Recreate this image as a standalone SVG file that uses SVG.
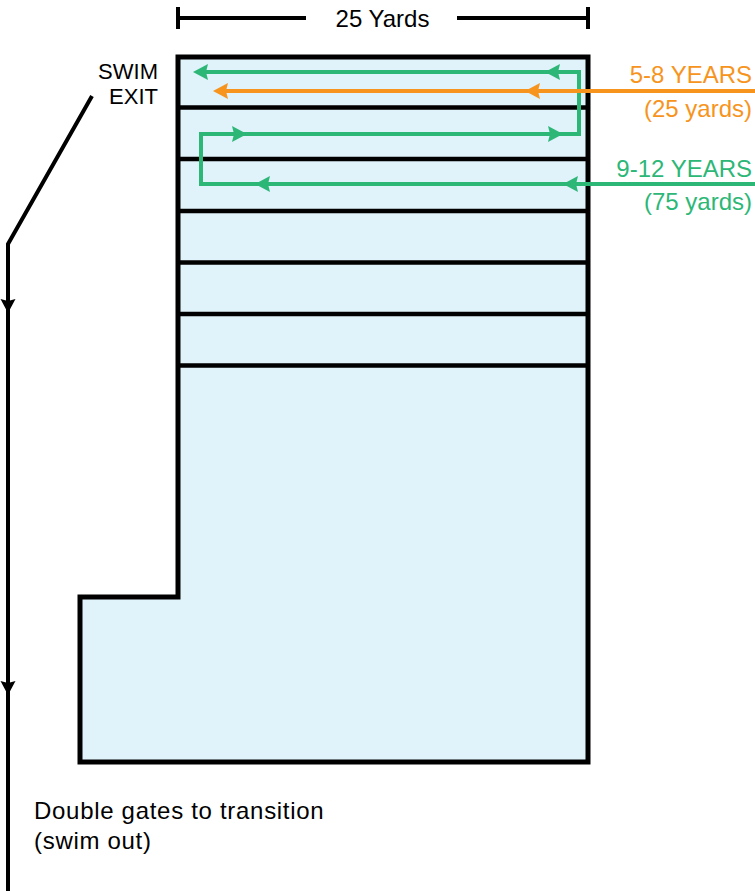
<svg xmlns="http://www.w3.org/2000/svg" width="755" height="891" viewBox="0 0 755 891">
<style>
text{font-family:"Liberation Sans",Arial,Helvetica,sans-serif;font-size:24px}
.blk{fill:#000}
.org{fill:#F7941D}
.grn{fill:#2CB777}
.lane{stroke:#000;stroke-width:4.5;fill:none}
.ls{fill:none;stroke-width:4;stroke-linejoin:miter}
.lg{stroke:#2CB777}
.lo{stroke:#F7941D}
.lk{fill:none;stroke:#000;stroke-width:4}
</style>
<defs>
<path id="ah" d="M0,0 L-15,-8 L-13,0 L-15,8 Z"/>
<path id="ahk" d="M0,0 L-7.5,-14 L0,-12 L7.5,-14 Z"/>
</defs>
<rect width="755" height="891" fill="#fff"/>

<g id="dimension">
<path class="lk" d="M178,18 H306 M457,18 H588 M178,7 V29 M588,7 V29"/>
<text x="382.5" y="27" text-anchor="middle" class="blk">25 Yards</text>
</g>

<g id="pool">
<path d="M178,57 H588 V762 H80 V597 H178 Z" fill="#E0F2FA" stroke="#000" stroke-width="5"/>
<path class="lane" d="M178,107.5 H588 M178,159 H588 M178,211 H588 M178,262.5 H588 M178,314 H588 M178,365.5 H588"/>
</g>

<g id="connectors">
<path class="ls lg" d="M755,184 H201 V134 H579 V72 H200"/>
<use href="#ah" class="grn" transform="translate(563,184) rotate(180)"/>
<use href="#ah" class="grn" transform="translate(255,184) rotate(180)"/>
<use href="#ah" class="grn" transform="translate(247,134)"/>
<use href="#ah" class="grn" transform="translate(563,134)"/>
<use href="#ah" class="grn" transform="translate(545,72) rotate(180)"/>
<use href="#ah" class="grn" transform="translate(193,72) rotate(180)"/>
<path class="ls lo" d="M755,91 H220"/>
<use href="#ah" class="org" transform="translate(525,91) rotate(180)"/>
<use href="#ah" class="org" transform="translate(213,91) rotate(180)"/>
<path class="lk" d="M92,96 L8,244 V891"/>
<use href="#ahk" class="blk" transform="translate(8,313)"/>
<use href="#ahk" class="blk" transform="translate(8,695)"/>
</g>

<g id="label-58">
<text x="752" y="83" text-anchor="end" class="org">5-8 YEARS</text>
<text x="752" y="117" text-anchor="end" class="org">(25 yards)</text>
</g>
<g id="label-912">
<text x="752" y="177" text-anchor="end" class="grn">9-12 YEARS</text>
<text x="752" y="210" text-anchor="end" class="grn">(75 yards)</text>
</g>
<g id="swim-exit">
<text x="158" y="79" text-anchor="end" class="blk" style="font-size:22px">SWIM</text>
<text x="158" y="104" text-anchor="end" class="blk" style="font-size:22px">EXIT</text>
</g>
<g id="gates">
<text x="34" y="819" class="blk" style="letter-spacing:0.7px">Double gates to transition</text>
<text x="34" y="849" class="blk" style="letter-spacing:0.7px">(swim out)</text>
</g>
</svg>
